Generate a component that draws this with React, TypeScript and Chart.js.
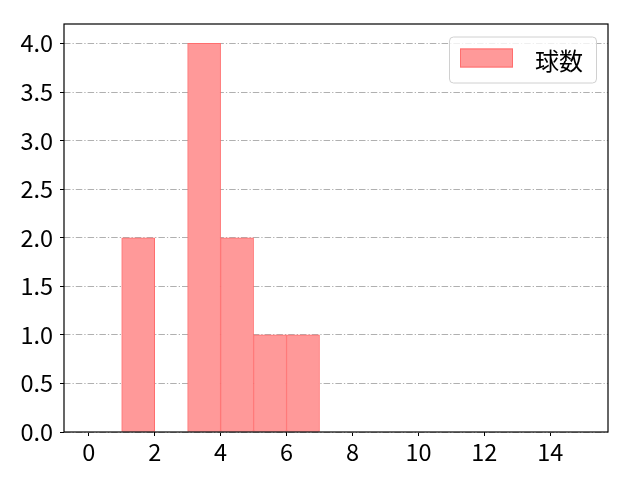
import { useEffect, useRef } from "react";
import { Chart, registerables } from "chart.js";

Chart.register(...registerables);

// histogram bins (left edges, width 1) and counts
const binStarts = [1, 2, 3, 4, 5, 6];
const binCounts = [2, 0, 4, 2, 1, 1];
const binWidth = 1;
const seriesLabel = "球数";

const xTicks = [0, 2, 4, 6, 8, 10, 12, 14];
const yTicks = [0, 0.5, 1, 1.5, 2, 2.5, 3, 3.5, 4];

const FILL = "rgba(255, 153, 153, 1)";
const EDGE = "rgba(255, 110, 110, 1)";
const TICK_FONT = { family: "'Noto Sans CJK JP', sans-serif", size: 23.5 };

const framePlugin = {
  id: "frame",
  afterDraw(chart: Chart) {
    const { ctx, chartArea } = chart;
    ctx.save();
    ctx.strokeStyle = "#000";
    ctx.lineWidth = 1.2;
    ctx.strokeRect(
      chartArea.left,
      chartArea.top,
      chartArea.right - chartArea.left,
      chartArea.bottom - chartArea.top
    );

    // legend box in the upper right corner
    ctx.font = "24px 'Noto Sans CJK JP', sans-serif";
    const tw = ctx.measureText(seriesLabel).width;
    const w = 11 + 53 + 22 + tw + 13;
    const h = 46;
    const x = chartArea.right - 12 - w;
    const y = chartArea.top + 12.5;
    ctx.fillStyle = "rgba(255,255,255,0.8)";
    ctx.strokeStyle = "#d0d0d0";
    ctx.lineWidth = 1;
    ctx.beginPath();
    ctx.roundRect(x + 0.5, y + 0.5, w, h, 4);
    ctx.fill();
    ctx.stroke();
    ctx.fillStyle = FILL;
    ctx.fillRect(x + 11, y + 12, 53, 19);
    ctx.strokeStyle = EDGE;
    ctx.strokeRect(x + 11.5, y + 12.5, 52, 18);
    ctx.fillStyle = "#000";
    ctx.textBaseline = "middle";
    ctx.fillText(seriesLabel, x + 11 + 53 + 22, y + h / 2 + 1);
    ctx.restore();
  },
};

export default function App() {
  const canvasRef = useRef<HTMLCanvasElement | null>(null);

  useEffect(() => {
    if (!canvasRef.current) return;
    const points = binStarts
      .map((s, i) => ({ x: s + binWidth / 2, y: binCounts[i] }))
      .filter((p) => p.y > 0);

    const chart = new Chart(canvasRef.current, {
      type: "bar",
      data: {
        datasets: [
          {
            label: seriesLabel,
            data: points,
            backgroundColor: FILL,
            borderColor: EDGE,
            borderWidth: 1,
            borderSkipped: false,
            barPercentage: 1,
            categoryPercentage: 1,
          },
        ],
      },
      options: {
        animation: false,
        responsive: false,
        devicePixelRatio: 1,
        layout: { padding: { left: 0, top: 24, right: 32, bottom: 0 } },
        plugins: {
          legend: { display: false },
          tooltip: { enabled: false },
        },
        scales: {
          x: {
            type: "linear",
            min: -0.75,
            max: 15.75,
            offset: false,
            afterFit: (s: any) => {
              s.height = 48;
            },
            afterBuildTicks: (s: any) => {
              s.ticks = xTicks.map((v) => ({ value: v }));
            },
            ticks: {
              color: "#000",
              font: TICK_FONT,
              padding: 2,
              maxRotation: 0,
              callback: (v: any) => String(v),
            },
            grid: {
              offset: false,
              drawOnChartArea: false,
              tickLength: 4,
              tickColor: "#000",
            },
            border: { display: false },
          },
          y: {
            min: 0,
            max: 4.2,
            z: 1,
            afterFit: (s: any) => {
              s.width = 64;
            },
            afterBuildTicks: (s: any) => {
              s.ticks = yTicks.map((v) => ({ value: v }));
            },
            ticks: {
              color: "#000",
              font: TICK_FONT,
              padding: 7,
              callback: (v: any) => Number(v).toFixed(1),
            },
            grid: {
              color: "#b0b0b0",
              lineWidth: 1,
              tickLength: 4,
              tickColor: "#000",
              tickBorderDash: [],
            },
            border: { display: false, dash: [6.5, 2, 1.3, 2] },
          },
        },
      },
      plugins: [framePlugin],
    });

    return () => {
      chart.destroy();
    };
  }, []);

  return (
    <div
      style={{
        position: "absolute",
        left: 0,
        top: 0,
        width: 640,
        height: 480,
        background: "#fff",
      }}
    >
      <canvas ref={canvasRef} width={640} height={480} />
    </div>
  );
}
